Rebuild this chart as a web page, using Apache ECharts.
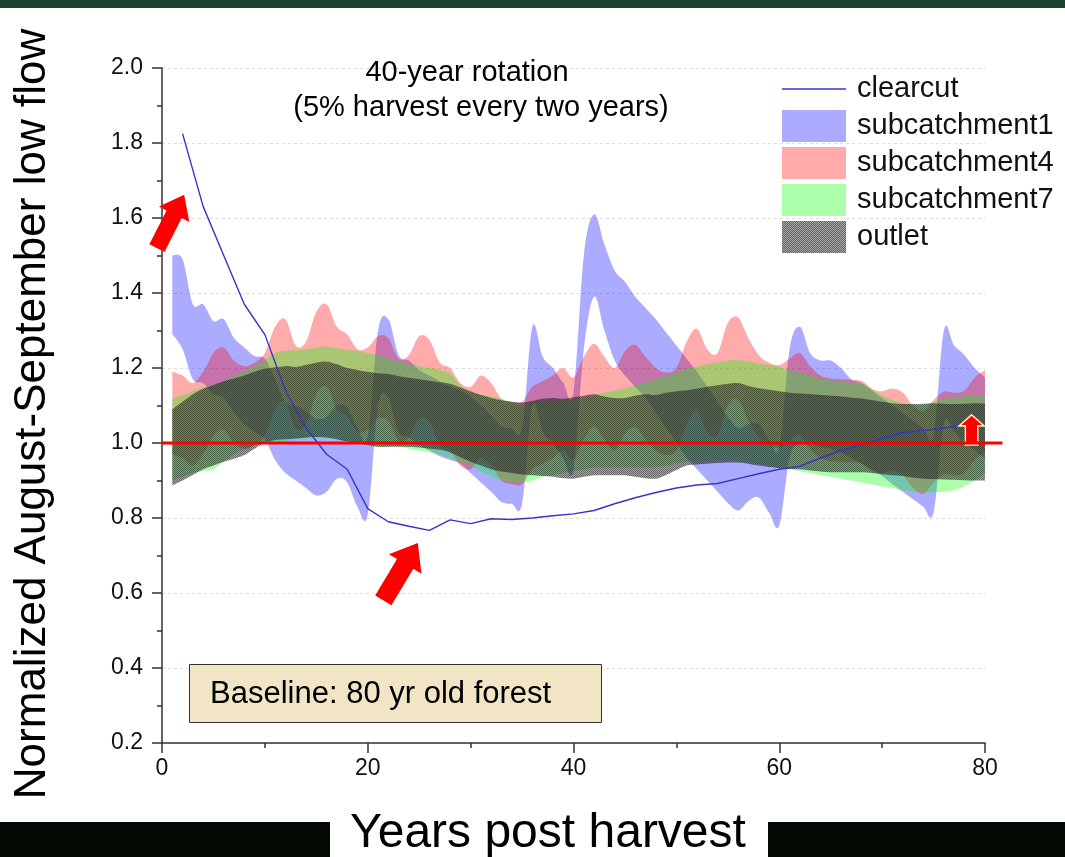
<!DOCTYPE html>
<html><head><meta charset="utf-8">
<script src="https://cdn.jsdelivr.net/npm/echarts@6/dist/echarts.min.js"></script>
<style>html,body{margin:0;padding:0;background:#fff;}#c{width:1065px;height:857px;}</style>
</head><body><div id="c"></div>
<script>
const years = [1,2,3,4,5,6,7,8,9,10,11,12,13,14,15,16,17,18,19,20,21,22,23,24,25,26,27,28,29,30,31,32,33,34,35,36,37,38,39,40,41,42,43,44,45,46,47,48,49,50,51,52,53,54,55,56,57,58,59,60,61,62,63,64,65,66,67,68,69,70,71,72,73,74,75,76,77,78,79,80];
const ccYears = [2,4,6,8,10,12,14,16,18,20,22,24,26,28,30,32,34,36,38,40,42,44,46,48,50,52,54,56,58,60,62,64,66,68,70,72,74,76,78,80];
const clearcut = [1.825,1.631,1.50,1.37,1.289,1.14,1.04,0.97,0.93,0.825,0.79,0.778,0.767,0.795,0.785,0.798,0.796,0.80,0.806,0.811,0.82,0.838,0.854,0.868,0.88,0.888,0.892,0.905,0.918,0.93,0.938,0.96,0.98,0.995,1.012,1.028,1.033,1.04,1.047,1.053];
const sub1High = [1.50,1.49,1.37,1.37,1.325,1.33,1.28,1.255,1.232,1.225,1.17,1.11,1.10,1.085,1.065,1.07,1.10,1.095,1.04,1.02,1.30,1.33,1.235,1.22,1.195,1.18,1.165,1.15,1.14,1.125,1.10,1.075,1.045,1.04,1.04,1.31,1.23,1.20,1.16,1.135,1.50,1.61,1.53,1.46,1.43,1.39,1.36,1.33,1.295,1.26,1.225,1.19,1.15,1.11,1.07,1.04,1.05,1.05,1.01,0.99,1.25,1.31,1.24,1.22,1.22,1.20,1.17,1.16,1.14,1.12,1.10,1.08,1.06,1.04,1.02,1.30,1.26,1.235,1.20,1.175];
const sub1Low = [1.29,1.25,1.17,1.16,1.13,1.12,1.08,1.05,1.03,1.01,0.955,0.92,0.90,0.88,0.86,0.87,0.905,0.895,0.83,0.81,1.10,1.12,1.03,1.015,0.995,0.98,0.965,0.955,0.945,0.92,0.895,0.87,0.843,0.838,0.838,1.10,1.03,1.00,0.96,0.93,1.25,1.39,1.30,1.22,1.18,1.15,1.12,1.08,1.04,1.00,0.96,0.93,0.90,0.87,0.84,0.82,0.845,0.855,0.815,0.78,0.96,1.00,1.00,0.99,0.985,0.975,0.96,0.945,0.93,0.912,0.89,0.87,0.85,0.83,0.815,1.05,1.03,1.00,0.98,0.96];
const sub4High = [1.19,1.18,1.16,1.19,1.24,1.255,1.22,1.205,1.215,1.24,1.31,1.33,1.26,1.27,1.35,1.37,1.31,1.29,1.25,1.255,1.285,1.28,1.225,1.235,1.285,1.275,1.215,1.20,1.16,1.15,1.18,1.16,1.118,1.11,1.11,1.15,1.165,1.18,1.20,1.175,1.23,1.265,1.23,1.20,1.245,1.262,1.23,1.20,1.188,1.20,1.27,1.305,1.25,1.24,1.32,1.335,1.28,1.235,1.215,1.208,1.225,1.24,1.205,1.18,1.172,1.17,1.168,1.166,1.145,1.138,1.145,1.135,1.10,1.085,1.115,1.137,1.134,1.14,1.175,1.195];
const sub4Low = [0.97,0.96,0.94,0.97,1.02,1.035,1.00,0.985,0.995,1.02,1.09,1.11,1.04,1.05,1.13,1.15,1.09,1.07,1.03,1.035,1.065,1.06,1.005,1.015,1.065,1.055,0.995,0.98,0.94,0.93,0.96,0.94,0.90,0.89,0.89,0.93,0.945,0.96,0.98,0.955,1.01,1.045,1.01,0.98,1.025,1.042,1.01,0.98,0.968,0.98,1.05,1.085,1.03,1.02,1.10,1.115,1.06,1.015,0.995,0.988,1.005,1.02,0.985,0.96,0.952,0.95,0.948,0.946,0.925,0.918,0.925,0.915,0.88,0.865,0.895,0.917,0.914,0.92,0.955,0.975];
const sub7High = [1.119,1.128,1.138,1.148,1.155,1.165,1.178,1.19,1.205,1.22,1.24,1.246,1.248,1.25,1.255,1.257,1.253,1.249,1.246,1.24,1.233,1.226,1.218,1.21,1.205,1.20,1.195,1.185,1.155,1.135,1.13,1.125,1.118,1.108,1.10,1.106,1.11,1.112,1.113,1.114,1.12,1.128,1.134,1.14,1.146,1.154,1.162,1.17,1.178,1.188,1.198,1.204,1.21,1.215,1.22,1.221,1.218,1.212,1.208,1.203,1.195,1.188,1.18,1.173,1.168,1.164,1.161,1.159,1.145,1.126,1.115,1.106,1.102,1.101,1.11,1.119,1.122,1.125,1.127,1.128];
const sub7Low = [0.90,0.91,0.92,0.925,0.93,0.95,0.97,0.985,0.995,1.00,1.00,1.005,1.01,1.01,1.012,1.012,1.01,1.005,1.00,0.995,0.99,0.99,0.99,0.985,0.98,0.975,0.97,0.96,0.95,0.94,0.925,0.91,0.90,0.895,0.895,0.90,0.91,0.915,0.92,0.925,0.93,0.935,0.935,0.935,0.935,0.935,0.935,0.935,0.94,0.945,0.95,0.952,0.955,0.955,0.955,0.953,0.95,0.945,0.94,0.935,0.93,0.925,0.92,0.915,0.91,0.905,0.90,0.895,0.89,0.885,0.88,0.875,0.87,0.868,0.868,0.87,0.875,0.885,0.90,0.92];
const outletHigh = [1.09,1.11,1.13,1.145,1.155,1.165,1.172,1.18,1.19,1.198,1.202,1.205,1.203,1.208,1.214,1.217,1.21,1.20,1.195,1.19,1.186,1.184,1.178,1.174,1.17,1.166,1.162,1.158,1.148,1.138,1.128,1.12,1.114,1.11,1.108,1.112,1.118,1.12,1.118,1.122,1.126,1.13,1.124,1.12,1.12,1.126,1.13,1.128,1.134,1.138,1.141,1.145,1.15,1.154,1.158,1.16,1.152,1.146,1.142,1.138,1.134,1.132,1.13,1.128,1.126,1.124,1.121,1.119,1.115,1.11,1.106,1.104,1.104,1.105,1.106,1.105,1.104,1.105,1.106,1.105];
const outletLow = [0.887,0.90,0.915,0.93,0.94,0.95,0.958,0.968,0.985,1.00,1.008,1.01,1.012,1.015,1.016,1.015,1.01,1.004,1.00,0.995,0.99,0.99,0.99,0.99,0.988,0.985,0.982,0.975,0.962,0.95,0.94,0.93,0.924,0.92,0.916,0.914,0.912,0.91,0.906,0.905,0.91,0.914,0.914,0.914,0.914,0.91,0.906,0.905,0.915,0.928,0.94,0.943,0.945,0.947,0.948,0.948,0.945,0.94,0.936,0.933,0.931,0.93,0.927,0.924,0.922,0.922,0.922,0.922,0.92,0.917,0.914,0.912,0.908,0.905,0.904,0.903,0.902,0.901,0.90,0.90];
const baselineX = [0, 80];
const baselineY = [1, 1];
const baselineEnd = 81.7;

const FONT = '"Liberation Sans", Arial, Helvetica, sans-serif';
const pat = document.createElement('canvas');
pat.width = 2; pat.height = 2;
const pc = pat.getContext('2d');
pc.fillStyle = 'rgba(25,25,25,0.66)';
pc.fillRect(0, 0, 1, 1); pc.fillRect(1, 1, 1, 1);
pc.fillStyle = 'rgba(25,25,25,0.40)';
pc.fillRect(1, 0, 1, 1); pc.fillRect(0, 1, 1, 1);
const outletFill = { image: pat, repeat: 'repeat' };

// Catmull-Rom spline through pixel points -> SVG path segments
function splineSeg(pts, first) {
  const k = 0.17;
  let d = first ? 'M' + pts[0][0] + ',' + pts[0][1] : 'L' + pts[0][0] + ',' + pts[0][1];
  for (let i = 0; i < pts.length - 1; i++) {
    const p0 = pts[Math.max(i - 1, 0)], p1 = pts[i], p2 = pts[i + 1], p3 = pts[Math.min(i + 2, pts.length - 1)];
    const c1x = p1[0] + (p2[0] - p0[0]) * k, c1y = p1[1] + (p2[1] - p0[1]) * k;
    const c2x = p2[0] - (p3[0] - p1[0]) * k, c2y = p2[1] - (p3[1] - p1[1]) * k;
    d += 'C' + c1x + ',' + c1y + ' ' + c2x + ',' + c2y + ' ' + p2[0] + ',' + p2[1];
  }
  return d;
}

function makeBand(name, low, high, fill) {
  return {
    name: name, type: 'custom', coordinateSystem: 'cartesian2d', silent: true,
    itemStyle: { color: fill },
    encode: { x: 0, y: [1, 2] },
    data: years.map((x, i) => [x, low[i], high[i]]),
    renderItem: function (params, api) {
      if (params.dataIndex !== 0) return null;
      const n = params.dataInsideLength;
      const up = [], lo = [];
      for (let i = 0; i < n; i++) {
        up.push(api.coord([api.value(0, i), api.value(2, i)]));
        lo.push(api.coord([api.value(0, i), api.value(1, i)]));
      }
      lo.reverse();
      const d = splineSeg(up, true) + splineSeg(lo, false) + 'Z';
      return { type: 'path', shape: { pathData: d }, style: { fill: fill, stroke: null } };
    }
  };
}

const arrowPath = 'path://M10,0 L20,11 L15,11 L15,30 L5,30 L5,11 L0,11 Z';

const chart = echarts.init(document.getElementById('c'), null, { renderer: 'canvas' });
const series = [
  makeBand('subcatchment1', sub1Low, sub1High, 'rgba(0,0,255,0.33)'),
  makeBand('subcatchment4', sub4Low, sub4High, 'rgba(255,0,0,0.33)'),
  makeBand('subcatchment7', sub7Low, sub7High, 'rgba(0,255,0,0.33)'),
  { name: 'clearcut', type: 'line', data: ccYears.map((x, i) => [x, clearcut[i]]), symbol: 'none', silent: true,
    color: '#3535cc', lineStyle: { color: '#3535cc', width: 1.4 } },
  makeBand('outlet', outletLow, outletHigh, outletFill),
  { name: 'ref', type: 'line', data: baselineX.map((x, i) => [x, baselineY[i]]), symbol: 'none', silent: true,
    z: 5, lineStyle: { color: '#ff0000', width: 3 },
    markPoint: { silent: true, label: { show: false }, animation: false,
      data: [
        { coord: [0.83, 1.591], symbol: arrowPath, symbolSize: [34, 60], symbolRotate: -27, itemStyle: { color: '#ff0000' } },
        { coord: [23.19, 0.657], symbol: arrowPath, symbolSize: [38, 67], symbolRotate: -31, itemStyle: { color: '#ff0000' } },
        { coord: [78.7, 1.035], symbol: arrowPath, symbolSize: [25, 30], symbolRotate: 0, itemStyle: { color: '#ff0000', borderColor: '#fff0b8', borderWidth: 1.5 } }
      ] } }
];

const textStyleC = (t, x, y, size, extra) => Object.assign({ type: 'text', x: x, y: y, z: 100,
  style: { text: t, font: size + 'px ' + FONT, fill: '#000', textAlign: 'center', textVerticalAlign: 'middle', align: 'center', verticalAlign: 'middle' } }, extra || {});

chart.setOption({
  animation: false,
  backgroundColor: '#ffffff',
  grid: { left: 162, right: 80, top: 68, bottom: 114 },
  xAxis: {
    type: 'value', min: 0, max: 80, interval: 20,
    axisLine: { show: true, lineStyle: { color: '#333', width: 1.5 } },
    axisTick: { show: true, length: 10, lineStyle: { color: '#333', width: 1.5 } },
    minorTick: { show: true, splitNumber: 2, length: 5, lineStyle: { color: '#333', width: 1.5 } },
    axisLabel: { fontSize: 23, color: '#111', fontFamily: FONT, margin: 14 },
    splitLine: { show: false }
  },
  yAxis: {
    type: 'value', min: 0.2, max: 2.0, interval: 0.2,
    axisLine: { show: true, lineStyle: { color: '#333', width: 1.5 } },
    axisTick: { show: true, length: 10, lineStyle: { color: '#333', width: 1.5 } },
    minorTick: { show: true, splitNumber: 2, length: 5, lineStyle: { color: '#333', width: 1.5 } },
    axisLabel: { fontSize: 23, color: '#111', fontFamily: FONT, margin: 19, formatter: v => v.toFixed(1) },
    splitLine: { show: true, lineStyle: { color: '#dddddd', type: [3, 3], width: 1 } }
  },
  legend: {
    orient: 'vertical', left: 782, top: 73, itemWidth: 64, itemHeight: 32, itemGap: 5, padding: 0,
    selectedMode: false,
    textStyle: { fontSize: 29, color: '#111', fontFamily: FONT, padding: [0, 0, 0, 6] },
    data: [
      { name: 'clearcut', icon: 'path://M0,0 M0,15.3 L64,15.3 L64,16.7 L0,16.7 Z M64,32', itemStyle: { color: '#3535cc' } },
      { name: 'subcatchment1', icon: 'rect', itemStyle: { color: 'rgba(0,0,255,0.33)' } },
      { name: 'subcatchment4', icon: 'rect', itemStyle: { color: 'rgba(255,0,0,0.33)' } },
      { name: 'subcatchment7', icon: 'rect', itemStyle: { color: 'rgba(0,255,0,0.33)' } },
      { name: 'outlet', icon: 'rect', itemStyle: { color: outletFill } }
    ]
  },
  graphic: [
    { id: 'topbar', type: 'rect', shape: { x: 0, y: 0, width: 1065, height: 8 }, style: { fill: '#17422e' }, z: 100 },
    { id: 'barL', type: 'rect', shape: { x: 0, y: 822, width: 330, height: 35 }, style: { fill: '#030903' }, z: 100 },
    { id: 'barR', type: 'rect', shape: { x: 768, y: 822, width: 297, height: 35 }, style: { fill: '#030903' }, z: 100 },
    Object.assign(textStyleC('Years post harvest', 548, 834, 48), { id: 'xt' }),
    Object.assign(textStyleC('Normalized August-September low flow', 33, 414, 44, { rotation: Math.PI / 2 }), { id: 'yt' }),
    Object.assign(textStyleC('40-year rotation', 467, 73, 29), { id: 't1' }),
    Object.assign(textStyleC('(5% harvest every two years)', 481, 108, 29), { id: 't2' }),
    { id: 'bbox', type: 'rect', z: 100, shape: { x: 189.5, y: 664.5, width: 412, height: 58 }, style: { fill: '#f1e5c6', stroke: '#333', lineWidth: 1 } },
    { id: 'btxt', type: 'text', x: 210, y: 694, z: 101, style: { text: 'Baseline: 80 yr old forest', font: '31px ' + FONT, fill: '#000',
      textAlign: 'left', textVerticalAlign: 'middle', align: 'left', verticalAlign: 'middle' } }
  ],
  series: series
});

// extend the red reference line a little past the last tick, via the axis scale
const pA = chart.convertToPixel({ gridIndex: 0 }, [baselineX[0], baselineY[0]]);
const pB = chart.convertToPixel({ gridIndex: 0 }, [baselineX[1], baselineY[1]]);
const pxPerUnit = (pB[0] - pA[0]) / (baselineX[1] - baselineX[0]);
chart.setOption({
  graphic: [{ id: 'refext', type: 'line', z: 4,
    shape: { x1: pB[0] - 1, y1: pB[1], x2: pB[0] + pxPerUnit * (baselineEnd - baselineX[1]), y2: pB[1] },
    style: { stroke: '#ff0000', lineWidth: 3 } }]
});
</script>
</body></html>
